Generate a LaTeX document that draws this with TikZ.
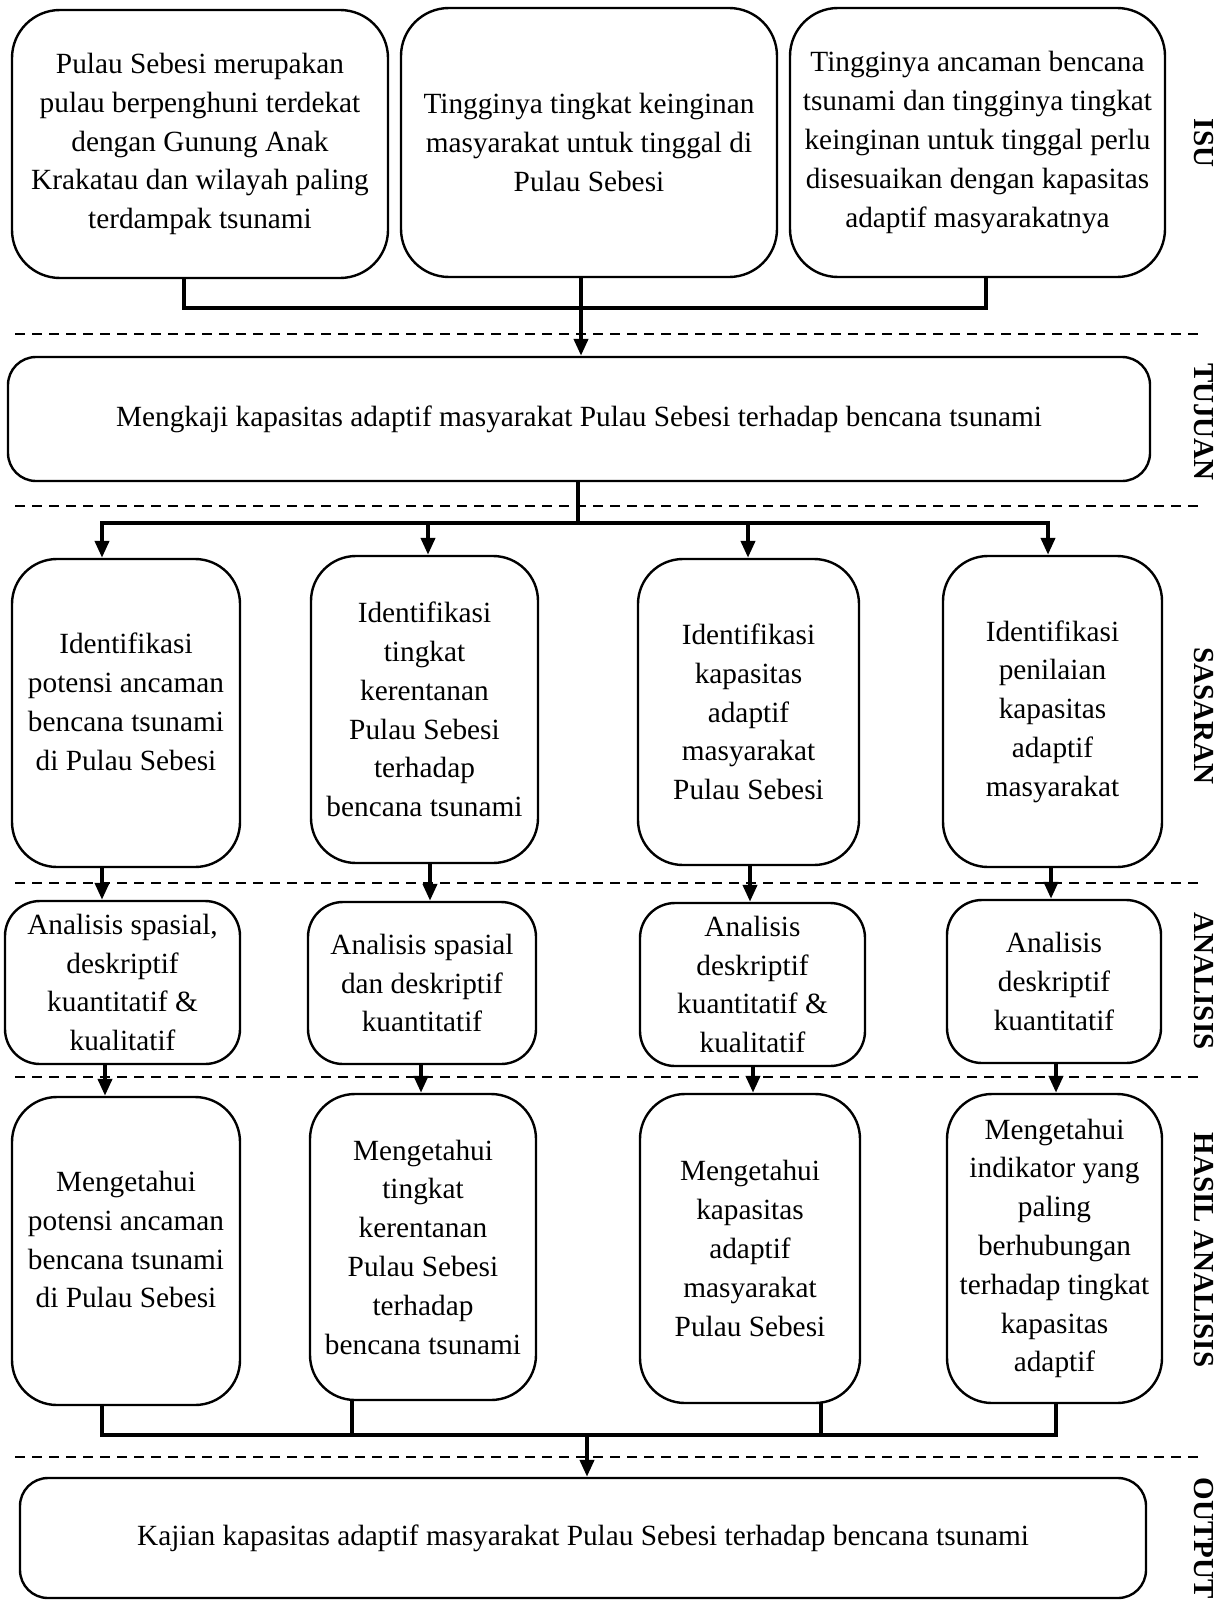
\documentclass[tikz,border=0pt]{standalone}
\usepackage{fontspec}
\setmainfont{Liberation Serif}
\usetikzlibrary{arrows.meta}
\newcommand\mybox[7][45pt]{%
  \pgfmathsetmacro\bw{#5-#3}\pgfmathsetmacro\bh{#6-#4}%
  \pgfmathsetmacro\bx{(#3+#5)/2}\pgfmathsetmacro\by{(#4+#6)/2}%
  \node[box, rounded corners=#1, minimum width=\bw pt, minimum height=\bh pt] (#2) at (\bx,\by) {#7};}
\begin{document}
\begin{tikzpicture}[x=1pt,y=-1pt,
  box/.style={draw, line width=2.4pt, align=center, inner sep=0pt, font=\fontsize{29.3}{38.8}\selectfont},
  conn/.style={line width=4pt, line cap=rect},
  arr/.style={line width=4pt, -{Triangle[length=17pt,width=14pt]}},
  sep/.style={line width=2pt, dash pattern=on 10pt off 7pt},
  lbl/.style={rotate=-90, font=\fontsize{29}{32}\selectfont\bfseries}]
\useasboundingbox (0,0) rectangle (1222,1600);
% ISU
\mybox[48pt]{i1}{12}{10}{388}{278}{\fontsize{29.3}{36.2}\selectfont Pulau Sebesi merupakan\\ pulau berpenghuni terdekat\\ dengan Gunung Anak\\ Krakatau dan wilayah paling\\ terdampak tsunami}
\mybox[48pt]{i2}{401}{8}{777}{277}{\fontsize{29.3}{36.2}\selectfont Tingginya tingkat keinginan\\ masyarakat untuk tinggal di\\ Pulau Sebesi}
\mybox[48pt]{i3}{790}{8}{1165}{277}{\fontsize{29.3}{36.2}\selectfont Tingginya ancaman bencana\\ tsunami dan tingginya tingkat\\ keinginan untuk tinggal perlu\\ disesuaikan dengan kapasitas\\ adaptif masyarakatnya}
% TUJUAN
\mybox[28pt]{tj}{8}{357}{1150}{481}{Mengkaji kapasitas adaptif masyarakat Pulau Sebesi terhadap bencana tsunami}
% SASARAN
\mybox{s1}{12}{559}{240}{867}{Identifikasi\\ potensi ancaman\\ bencana tsunami\\ di Pulau Sebesi\\[-16pt]\mbox{}}
\mybox{s2}{311}{556}{538}{863}{Identifikasi\\ tingkat\\ kerentanan\\ Pulau Sebesi\\ terhadap\\ bencana tsunami}
\mybox{s3}{638}{559}{859}{865}{Identifikasi\\ kapasitas\\ adaptif\\ masyarakat\\ Pulau Sebesi}
\mybox{s4}{943}{556}{1162}{867}{Identifikasi\\ penilaian\\ kapasitas\\ adaptif\\ masyarakat}
% ANALISIS
\mybox[35pt]{a1}{5}{901}{240}{1064}{Analisis spasial,\\ deskriptif\\ kuantitatif \&\\ kualitatif}
\mybox[35pt]{a2}{308}{902}{536}{1064}{Analisis spasial\\ dan deskriptif\\ kuantitatif}
\mybox[35pt]{a3}{640}{903}{865}{1066}{Analisis\\ deskriptif\\ kuantitatif \&\\ kualitatif}
\mybox[35pt]{a4}{947}{900}{1161}{1063}{Analisis\\ deskriptif\\ kuantitatif}
% HASIL
\mybox{h1}{12}{1097}{240}{1405}{Mengetahui\\ potensi ancaman\\ bencana tsunami\\ di Pulau Sebesi\\[-16pt]\mbox{}}
\mybox{h2}{310}{1094}{536}{1400}{Mengetahui\\ tingkat\\ kerentanan\\ Pulau Sebesi\\ terhadap\\ bencana tsunami}
\mybox{h3}{640}{1094}{860}{1403}{Mengetahui\\ kapasitas\\ adaptif\\ masyarakat\\ Pulau Sebesi}
\mybox{h4}{947}{1094}{1162}{1403}{Mengetahui\\ indikator yang\\ paling\\ berhubungan\\ terhadap tingkat\\ kapasitas\\ adaptif}
% OUTPUT
\mybox[28pt]{out}{20}{1478}{1146}{1598}{Kajian kapasitas adaptif masyarakat Pulau Sebesi terhadap bencana tsunami}
% separators
\foreach \yy in {334,506,883,1077,1457} \draw[sep] (15,\yy) -- (1203,\yy);
% labels
\node[lbl] (lisu) at (1204,143) {ISU};
\node[lbl] (ltj) at (1204,422) {TUJUAN};
\node[lbl] (lsas) at (1204,716) {SASARAN};
\node[lbl] (lana) at (1204,981) {ANALISIS};
\node[lbl] (lhas) at (1204,1250) {HASIL ANALISIS};
\node[lbl] (lout) at (1204,1538) {OUTPUT};
% top bracket
\coordinate (c1) at (184,308); \coordinate (c2) at (581,308); \coordinate (c3) at (986,308);
\draw[conn] (i1.south -| c1) -- (c1) -- (c3) -- (i3.south -| c3);
\draw[arr] (i2.south -| c2) -- (tj.north -| c2);
% distribution
\coordinate (d0) at (578,523);
\coordinate (d1) at (102,523); \coordinate (d2) at (428,523);
\coordinate (d3) at (748,523); \coordinate (d4) at (1048,523);
\draw[conn] (tj.south -| d0) -- (d0);
\draw[conn] (d1) -- (d4);
\draw[arr] (d1) -- (s1.north -| d1);
\draw[arr] (d2) -- (s2.north -| d2);
\draw[arr] (d3) -- (s3.north -| d3);
\draw[arr] (d4) -- (s4.north -| d4);
% sasaran -> analisis
\coordinate (e1) at (102,0); \coordinate (e2) at (430,0);
\coordinate (e3) at (750,0); \coordinate (e4) at (1051,0);
\draw[arr] (s1.south -| e1) -- (a1.north -| e1);
\draw[arr] (s2.south -| e2) -- (a2.north -| e2);
\draw[arr] (s3.south -| e3) -- (a3.north -| e3);
\draw[arr] (s4.south -| e4) -- (a4.north -| e4);
% analisis -> hasil
\coordinate (f1) at (105,0); \coordinate (f2) at (421,0);
\coordinate (f3) at (753,0); \coordinate (f4) at (1056,0);
\draw[arr] (a1.south -| f1) -- (h1.north -| f1);
\draw[arr] (a2.south -| f2) -- (h2.north -| f2);
\draw[arr] (a3.south -| f3) -- (h3.north -| f3);
\draw[arr] (a4.south -| f4) -- (h4.north -| f4);
% bottom bracket
\coordinate (g1) at (102,1435); \coordinate (g2) at (352,1435);
\coordinate (g3) at (821,1435); \coordinate (g4) at (1056,1435);
\coordinate (g0) at (587,1435);
\draw[conn] (h1.south -| g1) -- (g1) -- (g4) -- (h4.south -| g4);
\draw[conn] (h2.south -| g2) -- (g2);
\draw[conn] (h3.south -| g3) -- (g3);
\draw[arr] (g0) -- (out.north -| g0);
\end{tikzpicture}
\end{document}
